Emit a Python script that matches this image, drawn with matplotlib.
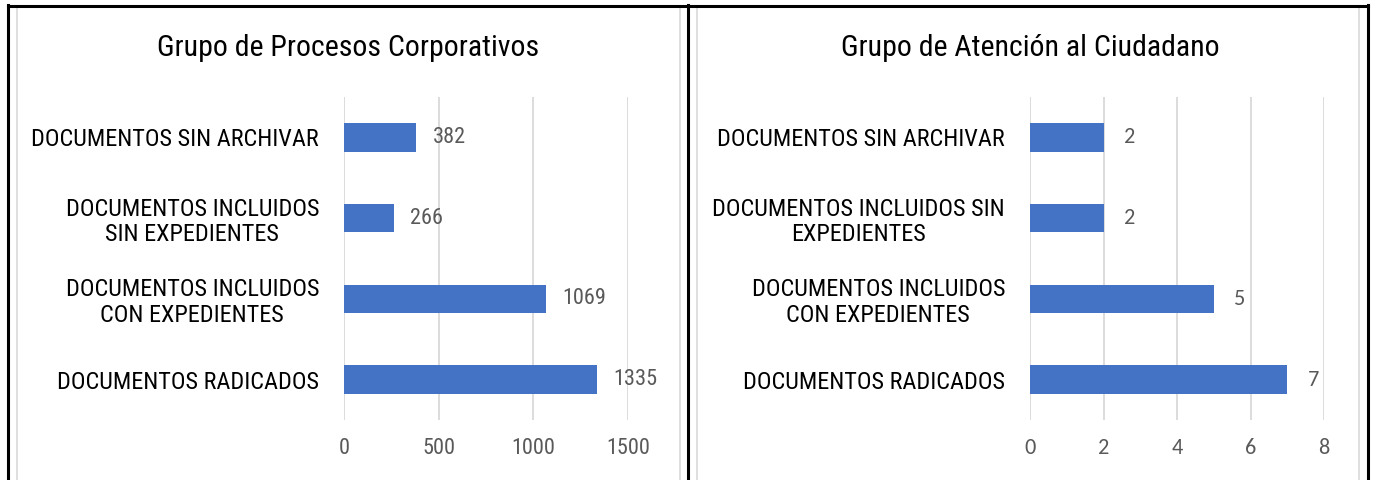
import matplotlib
matplotlib.use("Agg")
import matplotlib.pyplot as plt
from matplotlib.lines import Line2D

# Data
categories_left = [
    "DOCUMENTOS SIN ARCHIVAR",
    "DOCUMENTOS INCLUIDOS\nSIN EXPEDIENTES",
    "DOCUMENTOS INCLUIDOS\nCON EXPEDIENTES",
    "DOCUMENTOS RADICADOS",
]
values_left = [382, 266, 1069, 1335]
ticks_left = [0, 500, 1000, 1500]

categories_right = [
    "DOCUMENTOS SIN ARCHIVAR",
    "DOCUMENTOS INCLUIDOS SIN\nEXPEDIENTES",
    "DOCUMENTOS INCLUIDOS\nCON EXPEDIENTES",
    "DOCUMENTOS RADICADOS",
]
values_right = [2, 2, 5, 7]
ticks_right = [0, 2, 4, 6, 8]

titles = ["Grupo de Procesos Corporativos", "Grupo de Atención al Ciudadano"]

BAR = "#4472C4"
GRID = "#d9d9d9"
GRAY = "#595959"
NARROW = ["Roboto Condensed", "DejaVu Sans"]
CALIBRI = ["Carlito", "DejaVu Sans"]

W, H = 1375, 480
fig = plt.figure(figsize=(W / 100, H / 100), dpi=100)


def px_axes(x0, x1, y0, y1):
    return fig.add_axes([x0 / W, 1 - y1 / H, (x1 - x0) / W, (y1 - y0) / H])


def draw(ax, cats, vals, ticks, lab_off, num_font, num_size):
    ax.barh(range(len(cats)), vals, height=0.35, color=BAR, zorder=3)
    ax.set_ylim(-0.5, len(cats) - 0.5)
    ax.invert_yaxis()
    ax.set_xlim(ticks[0], ticks[-1])
    ax.set_xticks(ticks)
    ax.set_xticklabels([str(t) for t in ticks], family=num_font, fontsize=num_size,
                       color=GRAY)
    ax.set_yticks(range(len(cats)))
    ax.set_yticklabels(cats, fontsize=17.5, family=NARROW, color="black",
                       multialignment="center", linespacing=1.12)
    ax.tick_params(axis="x", length=0, pad=13)
    ax.tick_params(axis="y", length=0, pad=18)
    ax.grid(axis="x", color=GRID, linewidth=1.3, zorder=0)
    ax.set_axisbelow(True)
    for s in ax.spines.values():
        s.set_visible(False)
    for i, v in enumerate(vals):
        ax.text(v + lab_off, i, str(v), va="center", ha="left",
                fontsize=num_size, color=GRAY, family=num_font)


ax1 = px_axes(344, 628, 97, 420)
draw(ax1, categories_left, values_left, ticks_left, 85, NARROW, 16)
ax2 = px_axes(1030, 1324, 97, 420)
draw(ax2, categories_right, values_right, ticks_right, 0.55, CALIBRI, 16)

fig.text(348 / W, 1 - 48 / H, titles[0], ha="center", va="center",
         fontsize=21.5, family=NARROW)
fig.text(1030 / W, 1 - 48 / H, titles[1], ha="center", va="center",
         fontsize=21.5, family=NARROW)

# light chart frames
for x in [17, 680, 697, 1359]:
    fig.add_artist(Line2D([x / W, x / W], [0, 1 - 8 / H], color=GRID, lw=1.2))

# table borders
for x in [8, 688, 1368]:
    fig.add_artist(Line2D([x / W, x / W], [0, 1 - 5 / H], color="black", lw=2.2))
fig.add_artist(Line2D([8 / W, 1368 / W], [1 - 6 / H, 1 - 6 / H], color="black", lw=2.2))

fig.savefig("out.png", dpi=100, facecolor="white")
